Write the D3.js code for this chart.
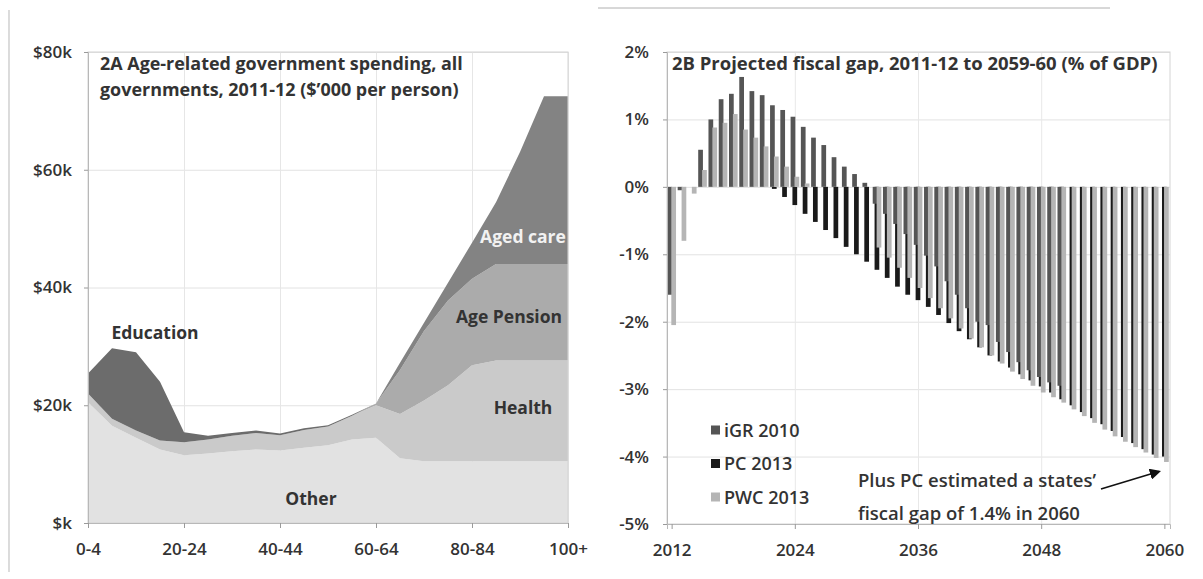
<!DOCTYPE html>
<html>
<head>
<meta charset="utf-8">
<script src="https://cdn.jsdelivr.net/npm/d3@7"></script>
<style>
  body { margin: 0; background: #fff; }
  svg { display: block; }
  text { font-family: "Open Sans", "Noto Sans", sans-serif; }
</style>
</head>
<body>
<svg id="chart" width="1203" height="579"></svg>
<script>
// ---------- 2A: spending per person by age group ($'000) ----------
const ages = ["0-4","5-9","10-14","15-19","20-24","25-29","30-34","35-39","40-44","45-49",
              "50-54","55-59","60-64","65-69","70-74","75-79","80-84","85-89","90-94","95-99","100+"];
const other     = [20.5,16.5,14.5,12.5,11.5,11.8,12.2,12.5,12.3,12.8,13.2,14.2,14.5,11.0,10.5,10.5,10.5,10.5,10.5,10.5,10.5];
const health    = [1.5,1.2,1.2,1.5,2.2,2.4,2.6,2.8,2.6,3.0,3.2,4.0,5.5,7.5,10.3,12.9,16.3,17.1,17.1,17.1,17.1];
const agePension= [0,0,0,0,0,0,0,0,0,0,0,0,0.3,7.5,11.8,14.4,14.7,16.4,16.4,16.4,16.4];
const agedCare  = [0,0,0,0,0,0,0,0,0,0,0,0,0,1.2,1.4,3.0,6.1,10.5,19.0,28.5,28.5];
const education = [3.4,12.0,13.3,10.0,1.7,0.6,0.5,0.4,0.3,0.3,0.2,0.2,0,0,0,0,0,0,0,0,0];
const ageTicks  = ["0-4","20-24","40-44","60-64","80-84","100+"];
const spendTicks = [0,20,40,60,80];

// ---------- 2B: projected fiscal gap (% of GDP) ----------
const years = [2012,2013,2014,2015,2016,2017,2018,2019,2020,2021,2022,2023,2024,2025,2026,2027,2028,2029,2030,
               2031,2032,2033,2034,2035,2036,2037,2038,2039,2040,2041,2042,2043,2044,2045,2046,2047,2048,2049,
               2050,2051,2052,2053,2054,2055,2056,2057,2058,2059,2060];
const igr2010 = [-1.6,-0.05,0.0,0.55,1.0,1.3,1.38,1.63,1.42,1.36,1.21,1.14,1.04,0.89,0.73,0.62,0.44,0.30,0.19,
                 0.06,-0.25,-0.4,-0.55,-0.7,-0.86,-1.02,-1.18,-1.4,-1.6,-1.8,-2.0,-2.05,-2.3,-2.45,-2.6,-2.72,-2.82,-2.9,
                 -2.95,null,null,null,null,null,null,null,null,null,null];
const pc2013  = [0,0,0,0,0,0,0,0,0,0,-0.03,-0.15,-0.27,-0.4,-0.52,-0.64,-0.76,-0.89,-1.0,
                 -1.11,-1.23,-1.35,-1.48,-1.6,-1.68,-1.78,-1.9,-2.02,-2.14,-2.26,-2.38,-2.5,-2.59,-2.68,-2.78,-2.87,-2.96,-3.05,
                 -3.15,-3.24,-3.34,-3.43,-3.52,-3.62,-3.71,-3.8,-3.89,-3.97,-4.0];
const pwc2013 = [-2.05,-0.8,-0.1,0.25,0.88,0.95,1.08,0.85,0.73,0.6,0.45,0.3,0.15,0.05,0,0,0,0,0,
                 0,-0.9,-1.05,-1.2,-1.35,-1.5,-1.65,-1.8,-1.95,-2.1,-2.25,-2.38,-2.5,-2.62,-2.74,-2.85,-2.95,-3.05,-3.12,
                 -3.2,-3.3,-3.4,-3.5,-3.6,-3.7,-3.78,-3.86,-3.94,-4.02,-4.08];
const seriesNames = ["iGR 2010","PC 2013","PWC 2013"];
const yearTicks = [2012,2024,2036,2048,2060];
const gapTicks = [-5,-4,-3,-2,-1,0,1,2];

const svg = d3.select("#chart");
const ink = "#333";

// panel frame lines
svg.append("line").attr("x1",9).attr("x2",9).attr("y1",10).attr("y2",572)
   .attr("stroke","#c4c4c4").attr("stroke-width",1.2);
svg.append("line").attr("x1",598).attr("x2",1110).attr("y1",8).attr("y2",8)
   .attr("stroke","#b0b0b0").attr("stroke-width",1);

// scale a text element's font so that the measured node spans the given width
function fitText(sel, width, measured) {
  const node = (measured || sel).node();
  const len = node.getComputedTextLength();
  const size = parseFloat(sel.style("font-size"));
  sel.style("font-size", (size * width / len) + "px");
}

// ================= Panel 2A =================
const L = {x0: 88, x1: 568, y0: 523, y1: 52};
const xL = d3.scalePoint().domain(ages).range([L.x0, L.x1]);
const yL = d3.scaleLinear().domain([0, 80]).range([L.y0, L.y1]);

const gA = svg.append("g");

// gridlines
gA.append("g").attr("transform", `translate(${L.x0},0)`)
  .call(d3.axisLeft(yL).tickValues(spendTicks).tickSize(-(L.x1 - L.x0)).tickFormat(""))
  .call(g => g.select(".domain").remove())
  .call(g => g.selectAll("line").attr("stroke", "#e2e2e2"));
gA.append("g").attr("transform", `translate(0,${L.y1})`)
  .call(d3.axisBottom(xL).tickValues(ageTicks).tickSize(L.y0 - L.y1).tickFormat(""))
  .call(g => g.select(".domain").remove())
  .call(g => g.selectAll("line").attr("stroke", "#e6e6e6"));

const rowsA = ages.map((a, i) => ({age: a, other: other[i], health: health[i], pension: agePension[i],
                                    aged: agedCare[i], education: education[i]}));
const keysA = ["other", "health", "pension", "aged", "education"];
const fillA = {other: "#e2e2e2", health: "#cacaca", pension: "#ababab", aged: "#838383", education: "#6c6c6c"};
const stackA = d3.stack().keys(keysA)(rowsA);
const areaA = d3.area().x(d => xL(d.data.age)).y0(d => yL(d[0])).y1(d => yL(d[1]));
gA.selectAll("path.layer").data(stackA).join("path").attr("class", "layer")
  .attr("d", areaA).attr("fill", d => fillA[d.key]);

// plot border
gA.append("rect").attr("x", L.x0).attr("y", L.y1).attr("width", L.x1 - L.x0).attr("height", L.y0 - L.y1)
  .attr("fill", "none").attr("stroke", "#d4d4d4");

// axes
const axYL = gA.append("g").attr("transform", `translate(${L.x0},0)`)
  .call(d3.axisLeft(yL).tickValues(spendTicks).tickSize(4).tickPadding(12)
        .tickFormat(d => "$" + (d ? d : "") + "k"));
const axXL = gA.append("g").attr("transform", `translate(0,${L.y0})`)
  .call(d3.axisBottom(xL).tickValues(ageTicks).tickSize(5).tickPadding(15));
[axYL, axXL].forEach(ax => {
  ax.select(".domain").attr("stroke", "#b8b8b8");
  ax.selectAll(".tick line").attr("stroke", "#9a9a9a");
  ax.selectAll("text").attr("fill", ink).style("font-size", "17px").style("font-weight", 600);
});

// title
const tA1 = gA.append("text").attr("x", 100).attr("y", 70).attr("fill", ink)
  .style("font-size", "16px").style("font-weight", 700).text("2A Age-related government spending, all");
fitText(tA1, 363);
const tA2 = gA.append("text").attr("x", 100).attr("y", 96).attr("fill", ink)
  .style("font-size", tA1.style("font-size")).style("font-weight", 700)
  .text("governments, 2011-12 ($\u2019000 per person)");

// layer labels
const layerLabels = [
  {t: "Education",   age: "10-14", dx: 19, v: 31.3, fill: ink},
  {t: "Aged care",   age: "90-94", dx: 3,  v: 47.5, fill: "#f2f2f2"},
  {t: "Age Pension", age: "90-94", dx: -11, v: 34.0, fill: ink},
  {t: "Health",      age: "90-94", dx: 3,  v: 18.5, fill: ink},
  {t: "Other",       age: "45-49", dx: 7,  v: 3.0,  fill: ink}
];
gA.selectAll("text.lab").data(layerLabels).join("text").attr("class", "lab")
  .attr("x", d => xL(d.age) + d.dx)
  .attr("y", d => yL(d.v))
  .attr("text-anchor", "middle").attr("fill", d => d.fill)
  .style("font-size", "17.5px").style("font-weight", 700).text(d => d.t);

// ================= Panel 2B =================
const R = {x0: 667, x1: 1170, y0: 524, y1: 52};
const xR = d3.scaleBand().domain(years).range([R.x0, R.x1]);
const yR = d3.scaleLinear().domain([-5, 2]).range([R.y0, R.y1]);
const bw = xR.bandwidth();
// partly overlapping columns within each year; later series are painted on top
const barSlot = {"iGR 2010": 0.04, "PC 2013": 0.22, "PWC 2013": 0.42};
const barWidth = 0.46 * bw;
const fillB = {"iGR 2010": "#555555", "PC 2013": "#1a1a1a", "PWC 2013": "#b5b5b5"};
const paintOrder = ["PC 2013", "iGR 2010", "PWC 2013"];

const gB = svg.append("g");
gB.append("g").attr("transform", `translate(${R.x0},0)`)
  .call(d3.axisLeft(yR).tickValues(gapTicks).tickSize(-(R.x1 - R.x0)).tickFormat(""))
  .call(g => g.select(".domain").remove())
  .call(g => g.selectAll("line").attr("stroke", "#e2e2e2"));
gB.append("g").attr("transform", `translate(0,${R.y1})`)
  .call(d3.axisBottom(xR).tickValues(yearTicks.slice(1, 4)).tickSize(R.y0 - R.y1).tickFormat(""))
  .call(g => g.select(".domain").remove())
  .call(g => g.selectAll("line").attr("stroke", "#e8e8e8"));

const seriesVals = {"iGR 2010": igr2010, "PC 2013": pc2013, "PWC 2013": pwc2013};
const barsB = [];
paintOrder.forEach(s => {
  years.forEach((yr, i) => {
    const v = seriesVals[s][i];
    if (v !== null && v !== 0) barsB.push({s, yr, v});
  });
});
gB.selectAll("rect.bar").data(barsB).join("rect").attr("class", "bar")
  .attr("x", d => xR(d.yr) + barSlot[d.s] * bw)
  .attr("width", barWidth)
  .attr("y", d => yR(Math.max(0, d.v)))
  .attr("height", d => Math.abs(yR(d.v) - yR(0)))
  .attr("fill", d => fillB[d.s]);

gB.append("rect").attr("x", R.x0).attr("y", R.y1).attr("width", R.x1 - R.x0).attr("height", R.y0 - R.y1)
  .attr("fill", "none").attr("stroke", "#d4d4d4");

const axYR = gB.append("g").attr("transform", `translate(${R.x0},0)`)
  .call(d3.axisLeft(yR).tickValues(gapTicks).tickSize(4).tickPadding(14).tickFormat(d => d + "%"));
const axXR = gB.append("g").attr("transform", `translate(0,${R.y0})`)
  .call(d3.axisBottom(xR).tickValues(yearTicks).tickSize(5).tickPadding(15));
[axYR, axXR].forEach(ax => {
  ax.select(".domain").attr("stroke", "#b8b8b8");
  ax.selectAll(".tick line").attr("stroke", "#9a9a9a");
  ax.selectAll("text").attr("fill", ink).style("font-size", "17px").style("font-weight", 600);
});

const tB = gB.append("text").attr("x", 672).attr("y", 70).attr("fill", ink)
  .style("font-size", "16px").style("font-weight", 700)
  .text("2B Projected fiscal gap, 2011-12 to 2059-60 (% of GDP)");
fitText(tB, 486);

// legend
const leg = gB.selectAll("g.leg").data(seriesNames).join("g").attr("class", "leg")
  .attr("transform", (d, i) => `translate(711,${430 + i * 33.5})`);
leg.append("rect").attr("x", 0).attr("y", -4.5).attr("width", 9).attr("height", 9).attr("fill", d => fillB[d]);
leg.append("text").attr("x", 13).attr("y", 6.5).attr("fill", ink)
  .style("font-size", "18px").style("font-weight", 600).text(d => d);

// note on states' gap, pointing at the final year
const note = gB.append("text").attr("fill", ink).style("font-size", "18px").style("font-weight", 600);
const noteLine1 = note.append("tspan").attr("x", 858).attr("y", 487).text("Plus PC estimated a states\u2019");
note.append("tspan").attr("x", 858).attr("y", 520).text("fiscal gap of 1.4% in 2060");
fitText(note, 238, noteLine1);
svg.append("defs").append("marker").attr("id", "arrowHead")
  .attr("viewBox", "0 0 10 10").attr("refX", 8).attr("refY", 5)
  .attr("markerWidth", 7).attr("markerHeight", 7).attr("orient", "auto")
  .append("path").attr("d", "M0,0 L10,5 L0,10 z").attr("fill", "#111");
gB.append("line")
  .attr("x1", 1101).attr("y1", 489)
  .attr("x2", xR(2060) + bw / 2 - 6).attr("y2", yR(-4.0) + 15)
  .attr("stroke", "#111").attr("stroke-width", 1.6).attr("marker-end", "url(#arrowHead)");
</script>
</body>
</html>
